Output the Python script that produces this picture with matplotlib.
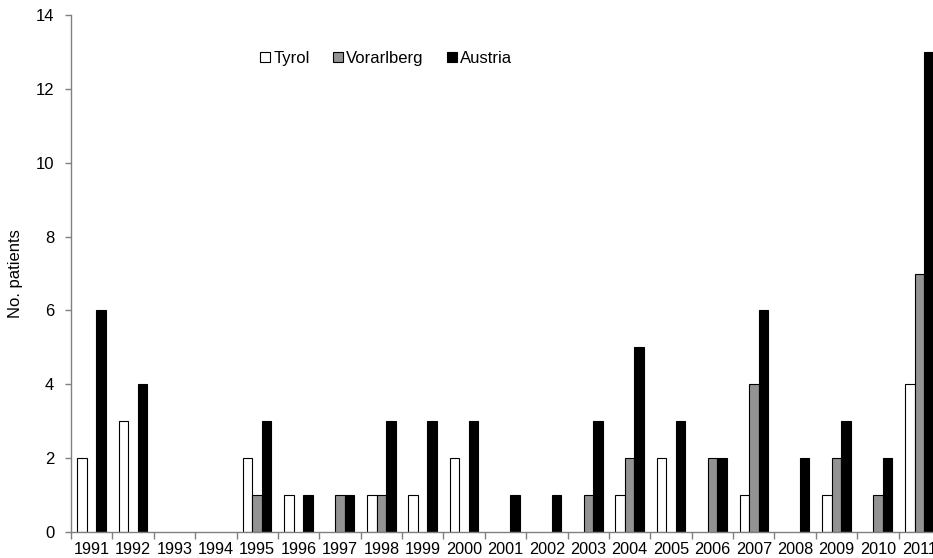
import matplotlib
matplotlib.use('Agg')
import matplotlib.pyplot as plt
import numpy as np

plt.rcParams['font.family'] = ['Liberation Sans', 'DejaVu Sans']

years = [str(y) for y in range(1991, 2012)]
tyrol = [2, 3, 0, 0, 2, 1, 0, 1, 1, 2, 0, 0, 0, 1, 2, 0, 1, 0, 1, 0, 4]
vorarlberg = [0, 0, 0, 0, 1, 0, 1, 1, 0, 0, 0, 0, 1, 2, 0, 2, 4, 0, 2, 1, 7]
austria = [6, 4, 0, 0, 3, 1, 1, 3, 3, 3, 1, 1, 3, 5, 3, 2, 6, 2, 3, 2, 13]

series = [('Tyrol', tyrol, 'white'),
          ('Vorarlberg', vorarlberg, '#939393'),
          ('Austria', austria, 'black')]

fig = plt.figure(figsize=(9.33, 5.58), dpi=100)
# axes runs a bit past the right edge, like the source crop
ax = fig.add_axes([71 / 933, 26 / 558, 869 / 933, 517 / 558])

x = np.arange(len(years))
w = 0.23
for i, (name, vals, col) in enumerate(series):
    vals = np.array(vals)
    keep = vals > 0   # empty years show no bar at all
    ax.bar(x[keep] + (i - 1) * w, vals[keep], w, color=col, edgecolor='black',
           linewidth=0.8, label=name)

ax.set_xlim(-0.5, len(years) - 0.5)
ax.set_ylim(0, 14)
ax.set_yticks(range(0, 15, 2))
ax.set_xticks(x)
ax.set_xticklabels(years)
ax.set_xticks(np.arange(-0.5, len(years), 1), minor=True)
ax.tick_params(axis='x', which='major', length=0, labelsize=11.7, pad=7)
ax.tick_params(axis='x', which='minor', length=5, color='#808080', width=1)
ax.tick_params(axis='y', length=4, color='#808080', width=1, labelsize=12, pad=8)

for s in ['top', 'right']:
    ax.spines[s].set_visible(False)
for s in ['left', 'bottom']:
    ax.spines[s].set_color('#808080')
    ax.spines[s].set_linewidth(1)

ax.set_ylabel('No. patients', fontsize=12, labelpad=9)

ax.legend(loc='upper left', bbox_to_anchor=(0.2, 0.96), ncol=3, frameon=False,
          fontsize=12, handlelength=0.6, handleheight=0.6, handletextpad=0.2,
          columnspacing=1.4)

fig.savefig('out.png', dpi=100)
